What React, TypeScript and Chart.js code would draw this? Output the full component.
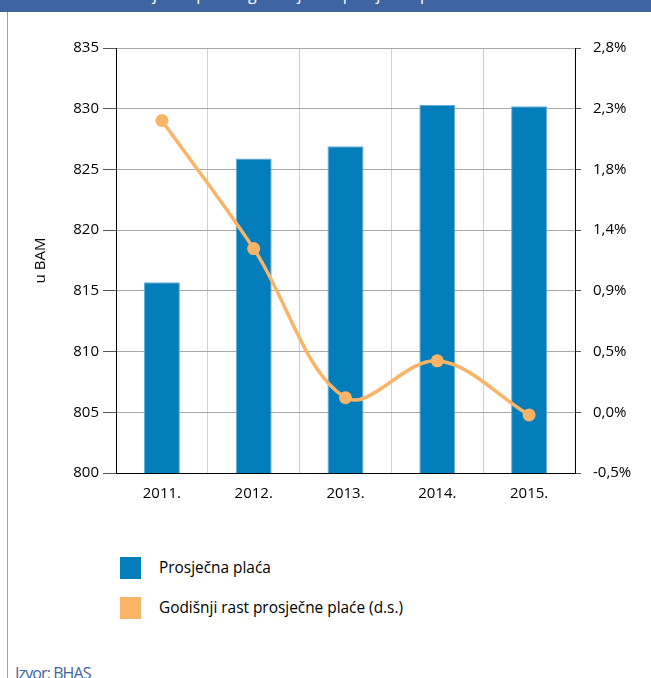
import React, { useEffect, useRef } from "react";
import { Chart, registerables } from "chart.js";

Chart.register(...registerables);

const categories = ["2011.", "2012.", "2013.", "2014.", "2015."];
const averageWage = [815.7, 825.9, 826.9, 830.3, 830.2];
const wageGrowth = [2.21, 1.24, 0.11, 0.39, -0.02];
const leftTicks = [800, 805, 810, 815, 820, 825, 830, 835];
const rightTicks = [-0.46, 0, 0.46, 0.92, 1.38, 1.84, 2.3, 2.76];
const seriesNames = ["Prosječna plaća", "Godišnji rast prosječne plaće (d.s.)"];
const leftTitle = "u BAM";
const sourceText = "Izvor: BHAS";
const headerText = "Grafikon 2.3: Prosječna plaća i godišnji rast prosječne plaće";

const BLUE = "#047DBB";
const ORANGE = "#FAB468";
const FONT_FAMILY = "'Open Sans', 'Noto Sans', sans-serif";

export default function App() {
  const canvasRef = useRef<HTMLCanvasElement | null>(null);

  useEffect(() => {
    const canvas = canvasRef.current;
    if (!canvas) return;
    const font = { family: FONT_FAMILY, size: 15 };
    const chart = new Chart(canvas, {
      type: "bar",
      data: {
        labels: categories,
        datasets: [
          {
            type: "line",
            label: seriesNames[1],
            data: wageGrowth,
            yAxisID: "y1",
            borderColor: ORANGE,
            backgroundColor: ORANGE,
            borderWidth: 3.5,
            pointRadius: 6.5,
            pointBackgroundColor: ORANGE,
            pointBorderWidth: 0,
            tension: 0.35,
            order: 0,
          } as any,
          {
            type: "bar",
            label: seriesNames[0],
            data: averageWage,
            yAxisID: "y",
            backgroundColor: BLUE,
            borderColor: "#5FB0DD",
            borderWidth: { top: 1, left: 1, right: 1, bottom: 0 },
            categoryPercentage: 1,
            barPercentage: 0.392,
            order: 1,
          } as any,
        ],
      },
      options: {
        responsive: false,
        animation: false,
        layout: { padding: { top: 48, left: 0, right: 0, bottom: 0 } },
        plugins: {
          legend: { display: false },
          tooltip: { enabled: false },
        },
        scales: {
          x: {
            grid: { color: "#CFCFCF", lineWidth: 1, drawTicks: false, offset: true },
            border: { color: "#000", width: 1 },
            ticks: { padding: 12, color: "#000", font },
            afterFit: (s: any) => {
              s.height = 47;
            },
          },
          y: {
            position: "left",
            min: 800,
            max: 835,
            afterBuildTicks: (s: any) => {
              s.ticks = leftTicks.map((v) => ({ value: v }));
            },
            grid: { color: "#A8A8A8", tickColor: "#555", tickLength: 13 },
            border: { color: "#000", width: 1 },
            ticks: { padding: 4, color: "#000", font },
            title: {
              display: true,
              text: leftTitle,
              color: "#000",
              font,
              padding: { top: 32, bottom: 0 },
            },
            afterFit: (s: any) => {
              s.width = 116;
            },
          },
          y1: {
            position: "right",
            min: -0.46,
            max: 2.76,
            afterBuildTicks: (s: any) => {
              s.ticks = rightTicks.map((v) => ({ value: v }));
            },
            grid: { drawOnChartArea: false, tickLength: 6, tickColor: "#555" },
            border: { color: "#000", width: 1 },
            ticks: {
              padding: 12,
              color: "#000",
              font,
              callback: (v: any) => Number(v).toFixed(1).replace(".", ",") + "%",
            },
            afterFit: (s: any) => {
              s.width = 76;
            },
          },
        },
      },
    });
    return () => chart.destroy();
  }, []);

  const legendText: React.CSSProperties = {
    position: "absolute",
    left: 159,
    fontFamily: FONT_FAMILY,
    fontSize: 15.4,
    lineHeight: "20px",
    color: "#000",
    whiteSpace: "nowrap",
  };

  return (
    <div
      style={{
        position: "absolute",
        left: 0,
        top: 0,
        width: 651,
        height: 678,
        background: "#fff",
        overflow: "hidden",
      }}
    >
      <div
        style={{
          position: "absolute",
          left: 0,
          top: 0,
          width: 651,
          height: 12,
          background: "#3F64A2",
          overflow: "hidden",
        }}
      >
        <span
          style={{
            position: "absolute",
            left: 20,
            top: -16,
            fontFamily: FONT_FAMILY,
            fontSize: 16,
            lineHeight: "20px",
            color: "#fff",
            whiteSpace: "nowrap",
          }}
        >
          {headerText}
        </span>
      </div>
      <div
        style={{
          position: "absolute",
          left: 7,
          top: 12,
          width: 1,
          height: 666,
          background: "#A0A0A0",
        }}
      />
      <canvas
        ref={canvasRef}
        width={651}
        height={520}
        style={{ position: "absolute", left: 0, top: 0, width: 651, height: 520 }}
      />
      <div style={{ position: "absolute", left: 120, top: 557, width: 21, height: 22, background: BLUE }} />
      <div style={{ ...legendText, top: 558 }}>{seriesNames[0]}</div>
      <div style={{ position: "absolute", left: 120, top: 597, width: 21, height: 22, background: ORANGE }} />
      <div style={{ ...legendText, top: 598 }}>{seriesNames[1]}</div>
      <div
        style={{
          position: "absolute",
          left: 15,
          top: 663,
          fontFamily: FONT_FAMILY,
          fontSize: 16,
          letterSpacing: "-0.9px",
          lineHeight: "20px",
          color: "#3F64A2",
          whiteSpace: "nowrap",
        }}
      >
        {sourceText}
      </div>
    </div>
  );
}
